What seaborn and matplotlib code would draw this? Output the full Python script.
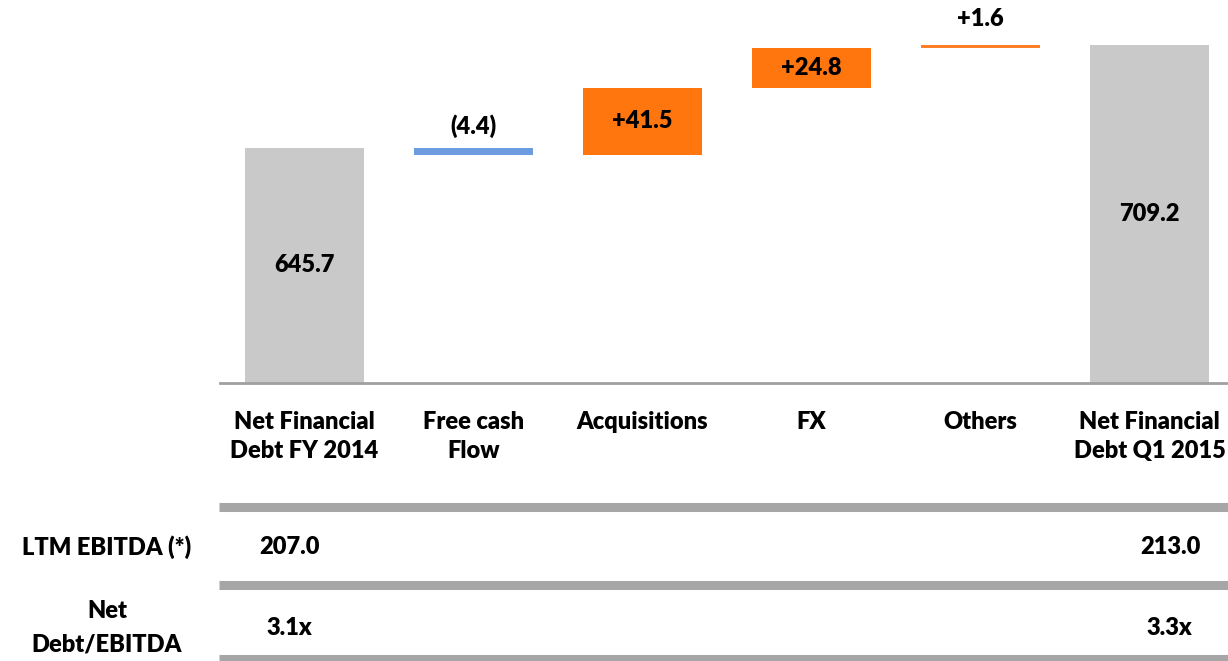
import numpy as np
import pandas as pd
import matplotlib
matplotlib.use('Agg')
import matplotlib.pyplot as plt
from matplotlib.lines import Line2D
import seaborn as sns

# data
categories = ['Net Financial\nDebt FY 2014', 'Free cash\nFlow', 'Acquisitions', 'FX',
              'Others', 'Net Financial\nDebt Q1 2015']
start_total = 645.7
changes = [-4.4, 41.5, 24.8, 1.6]
end_total = 709.2
bar_labels = ['645.7', '(4.4)', '+41.5', '+24.8', '+1.6', '709.2']
row_labels = ['LTM EBITDA (*)', 'Net\nDebt/EBITDA']
ebitda = ['207.0', '213.0']
leverage = ['3.1x', '3.3x']

# waterfall: bottoms and heights
steps = np.cumsum([start_total] + changes)
bottoms = [0] + [min(a, b) for a, b in zip(steps[:-1], steps[1:])] + [0]
heights = [start_total] + [abs(c) for c in changes] + [end_total]
df = pd.DataFrame({'cat': categories, 'height': heights, 'bottom': bottoms})

colors = ['#C9C9C9', '#6C9BE0', '#FF760F', '#FF760F', '#FF7F27', '#C9C9C9']
FS = 17
W = 'heavy'

sns.set_style('white')
plt.rcParams['font.family'] = ['Lato', 'DejaVu Sans']
plt.rcParams['text.color'] = 'black'
plt.rcParams['xtick.color'] = 'black'

fig = plt.figure(figsize=(12.28, 6.61), dpi=100)
ax = fig.add_axes([220 / 1228, 278 / 661, 1014 / 1228, 383 / 661])

sns.barplot(data=df, x='cat', y='height', bottom=df['bottom'].values, order=categories,
            width=0.7, ax=ax, color='#C9C9C9')
for p, c in zip(ax.patches, colors):
    p.set_facecolor(c)
    p.set_edgecolor('none')

ymin = 500
ax.set_ylim(ymin, 737)
ax.set_xlim(-0.5, 5.5)
ax.set_xlabel('')
ax.set_ylabel('')
ax.set_yticks([])
for s in ['left', 'right', 'top']:
    ax.spines[s].set_visible(False)
ax.spines['bottom'].set_color('#A0A0A0')
ax.spines['bottom'].set_linewidth(2)
ax.tick_params(axis='x', which='major', length=0, pad=20, labelsize=FS, labelcolor='black')
ax.set_xticks(np.arange(-0.5, 6, 1), minor=True)
ax.tick_params(axis='x', which='minor', length=7, width=2, color='#A0A0A0', direction='out')
for t in ax.get_xticklabels():
    t.set_fontweight(W)
    t.set_linespacing(1.4)

# value labels
for i, (b, h, lab) in enumerate(zip(bottoms, heights, bar_labels)):
    if i in (1, 4):
        off = 7 if i == 1 else 11
        ax.annotate(lab, (i, b + h), xytext=(0, off), textcoords='offset points',
                    ha='center', va='bottom', fontsize=FS, fontweight=W)
    else:
        lo = max(b, ymin)
        ax.text(i, (lo + b + h) / 2, lab, ha='center', va='center', fontsize=FS, fontweight=W)

# table under the chart
for yp in [507, 585, 659]:
    fig.add_artist(Line2D([219 / 1228, 1], [1 - yp / 661] * 2, color='#A6A6A6', lw=6.5,
                          solid_capstyle='butt', transform=fig.transFigure))
fig.text(107 / 1228, 1 - 547 / 661, row_labels[0], ha='center', va='center', fontsize=FS, fontweight=W)
fig.text(107 / 1228, 1 - 628 / 661, row_labels[1], ha='center', va='center', fontsize=FS,
         fontweight=W, linespacing=1.65)
fig.text(290 / 1228, 1 - 547 / 661, ebitda[0], ha='center', va='center', fontsize=FS, fontweight=W)
fig.text(1170 / 1228, 1 - 547 / 661, ebitda[1], ha='center', va='center', fontsize=FS, fontweight=W)
fig.text(289 / 1228, 1 - 628 / 661, leverage[0], ha='center', va='center', fontsize=FS, fontweight=W)
fig.text(1169 / 1228, 1 - 628 / 661, leverage[1], ha='center', va='center', fontsize=FS, fontweight=W)

fig.savefig('out.png', dpi=100)
